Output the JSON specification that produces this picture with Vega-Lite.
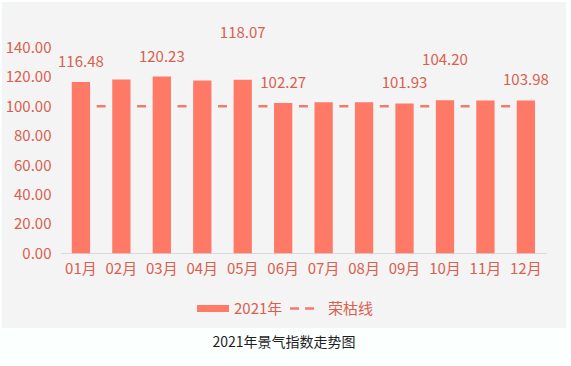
{
  "$schema": "https://vega.github.io/schema/vega-lite/v6.json",
  "width": 564,
  "height": 326,
  "autosize": {"type": "none"},
  "padding": {"left": 2, "top": 2, "right": 5, "bottom": 38},
  "background": "#FBFFFE",
  "view": {"fill": "#F4F4F4", "stroke": null},
  "config": {"font": "Noto Sans CJK SC"},
  "title": {
    "text": "2021年景气指数走势图",
    "orient": "bottom",
    "anchor": "middle",
    "offset": 8,
    "fontSize": 14,
    "fontWeight": "normal",
    "color": "#1E1E1E",
    "font": "Noto Sans CJK SC"
  },
  "data": {
    "values": [
      {"month": "01月", "value": 116.48},
      {"month": "02月", "value": 118.3},
      {"month": "03月", "value": 120.23},
      {"month": "04月", "value": 117.6},
      {"month": "05月", "value": 118.07},
      {"month": "06月", "value": 102.27},
      {"month": "07月", "value": 102.7},
      {"month": "08月", "value": 102.7},
      {"month": "09月", "value": 101.93},
      {"month": "10月", "value": 104.2},
      {"month": "11月", "value": 104.0},
      {"month": "12月", "value": 103.98}
    ]
  },
  "encoding": {
    "x": {
      "field": "month",
      "type": "nominal",
      "sort": null,
      "scale": {"range": [58.7, 544.1], "paddingInner": 0.548, "paddingOuter": 0.274},
      "axis": {
        "title": null,
        "orient": "bottom",
        "offset": -75,
        "labelAngle": 0,
        "labelFontSize": 15,
        "labelColor": "#D9604F",
        "labelFont": "Noto Sans CJK SC",
        "labelPadding": 8,
        "ticks": false,
        "tickSize": 0,
        "domainColor": "#D9D9D9",
        "domainWidth": 1,
        "grid": false
      }
    }
  },
  "layer": [
    {
      "mark": {"type": "line", "strokeWidth": 2.5, "strokeDash": [9, 31.45], "strokeDashOffset": 24.75},
      "encoding": {
        "y": {"datum": 100, "type": "quantitative", "scale": {"domain": [0, 140], "range": [251.3, 45.5], "nice": false}},
        "color": {"datum": "荣枯线", "type": "nominal"}
      }
    },
    {
      "mark": {"type": "bar"},
      "encoding": {
        "y": {
          "field": "value",
          "type": "quantitative",
          "scale": {"domain": [0, 140], "range": [251.3, 45.5], "nice": false},
          "axis": {
            "title": null,
            "orient": "left",
            "offset": -50,
            "values": [0, 20, 40, 60, 80, 100, 120, 140],
            "format": ".2f",
            "labelFontSize": 15,
            "labelColor": "#D9604F",
            "labelFont": "Noto Sans CJK SC",
            "labelPadding": 1,
            "ticks": false,
            "tickSize": 0,
            "domain": false,
            "grid": false
          }
        },
        "color": {
          "datum": "2021年",
          "type": "nominal",
          "scale": {"domain": ["2021年", "荣枯线"], "range": ["#FF7A66", "#F07D6C"]},
          "legend": {
            "title": null,
            "orient": "none",
            "legendX": 195,
            "legendY": 290.5,
            "direction": "horizontal",
            "labelFontSize": 15,
            "labelFont": "Noto Sans CJK SC",
            "labelColor": "#D9604F",
            "symbolSize": 1024,
            "labelOffset": 5,
            "columnPadding": 7,
            "symbolType": "M-1,-0.22H1V0.22H-1Z",
            "encode": {
              "symbols": {
                "update": {
                  "shape": {"signal": "datum.value === '荣枯线' ? 'M-1.06,-0.08H-0.5V0.08H-1.06Z M-0.12,-0.08H0.44V0.08H-0.12Z' : 'M-1,-0.22H1V0.22H-1Z'"},
                  "fill": {"signal": "datum.value === '荣枯线' ? '#F07D6C' : '#FF7A66'"},
                  "stroke": {"value": "transparent"},
                  "strokeWidth": {"value": 0},
                  "opacity": {"value": 1},
                  "fillOpacity": {"value": 1}
                }
              }
            }
          }
        }
      }
    },
    {
      "transform": [{"filter": {"field": "month", "oneOf": ["01月", "03月", "06月", "09月", "12月"]}}],
      "mark": {"type": "text", "dy": -20, "fontSize": 15, "baseline": "middle", "align": "center", "color": "#D9604F", "font": "Noto Sans CJK SC"},
      "encoding": {
        "y": {"field": "value", "type": "quantitative", "scale": {"domain": [0, 140], "range": [251.3, 45.5], "nice": false}},
        "text": {"field": "value", "type": "quantitative", "format": ".2f"}
      }
    },
    {
      "transform": [{"filter": {"field": "month", "oneOf": ["05月"]}}],
      "mark": {"type": "text", "dy": -47, "fontSize": 15, "baseline": "middle", "align": "center", "color": "#D9604F", "font": "Noto Sans CJK SC"},
      "encoding": {
        "y": {"field": "value", "type": "quantitative", "scale": {"domain": [0, 140], "range": [251.3, 45.5], "nice": false}},
        "text": {"field": "value", "type": "quantitative", "format": ".2f"}
      }
    },
    {
      "transform": [{"filter": {"field": "month", "oneOf": ["10月"]}}],
      "mark": {"type": "text", "dy": -40, "fontSize": 15, "baseline": "middle", "align": "center", "color": "#D9604F", "font": "Noto Sans CJK SC"},
      "encoding": {
        "y": {"field": "value", "type": "quantitative", "scale": {"domain": [0, 140], "range": [251.3, 45.5], "nice": false}},
        "text": {"field": "value", "type": "quantitative", "format": ".2f"}
      }
    }
  ]
}
